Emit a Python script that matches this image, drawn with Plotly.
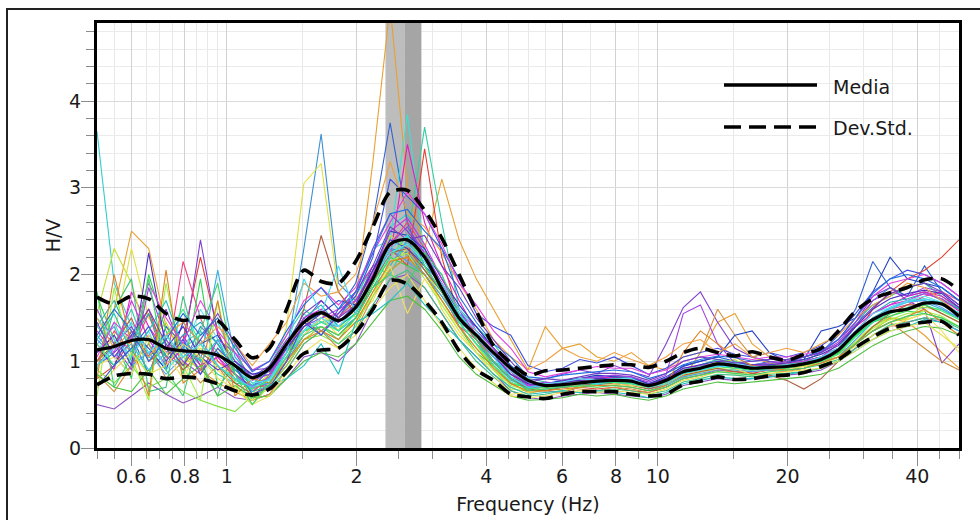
import math
import plotly.graph_objects as go

# ---------------- data ----------------
freq = [0.500, 0.548, 0.601, 0.659, 0.723, 0.792, 0.869, 0.953, 1.045, 1.146,
        1.256, 1.377, 1.510, 1.656, 1.816, 1.991, 2.183, 2.394, 2.625, 2.878,
        3.155, 3.460, 3.793, 4.159, 4.561, 5.000, 5.483, 6.012, 6.592, 7.228,
        7.924, 8.689, 9.527, 10.45, 11.46, 12.56, 13.77, 15.10, 16.56, 18.16,
        19.91, 21.83, 23.94, 26.25, 28.78, 31.55, 34.60, 37.93, 41.59, 45.61, 50.00]

media = [1.13, 1.17, 1.24, 1.25, 1.15, 1.12, 1.11, 1.07, 0.95, 0.81,
         0.92, 1.20, 1.45, 1.56, 1.47, 1.62, 1.95, 2.35, 2.40, 2.20,
         1.84, 1.50, 1.30, 1.10, 0.92, 0.78, 0.72, 0.73, 0.75, 0.77,
         0.78, 0.77, 0.72, 0.78, 0.88, 0.92, 0.97, 0.95, 0.92, 0.93,
         0.94, 0.97, 1.02, 1.13, 1.33, 1.48, 1.57, 1.60, 1.67, 1.66, 1.52]

std_upper = [1.74, 1.66, 1.75, 1.72, 1.55, 1.47, 1.51, 1.47, 1.25, 1.04,
             1.15, 1.60, 2.05, 1.92, 1.90, 2.15, 2.55, 2.95, 2.97, 2.74,
             2.42, 2.00, 1.58, 1.18, 0.98, 0.84, 0.89, 0.90, 0.92, 0.94,
             0.96, 0.96, 0.93, 1.00, 1.10, 1.15, 1.10, 1.06, 1.11, 1.05,
             1.01, 1.08, 1.15, 1.35, 1.58, 1.72, 1.79, 1.85, 1.94, 1.95, 1.82]

std_lower = [0.73, 0.83, 0.86, 0.85, 0.80, 0.82, 0.80, 0.74, 0.66, 0.61,
             0.68, 0.88, 1.09, 1.13, 1.15, 1.33, 1.60, 1.93, 1.89, 1.70,
             1.45, 1.12, 0.90, 0.78, 0.62, 0.59, 0.57, 0.62, 0.65, 0.65,
             0.65, 0.62, 0.60, 0.62, 0.73, 0.77, 0.82, 0.79, 0.80, 0.83,
             0.84, 0.87, 0.94, 1.02, 1.16, 1.28, 1.38, 1.42, 1.45, 1.46, 1.30]

# individual windows (H/V of each time window)
windows = [
    [3.65, 1.90, 1.40, 1.05, 0.95, 1.20, 1.35, 1.10, 0.90, 0.75,
     0.80, 1.05, 1.35, 1.60, 1.40, 1.55, 2.00, 2.55, 2.70, 2.30,
     1.80, 1.45, 1.20, 1.00, 0.85, 0.72, 0.70, 0.74, 0.72, 0.78,
     0.75, 0.80, 0.70, 0.76, 0.85, 0.90, 1.00, 0.96, 0.90, 0.94,
     0.92, 0.98, 1.05, 1.10, 1.30, 1.50, 1.62, 1.70, 1.72, 1.68, 1.55],
    [1.25, 1.05, 0.85, 1.30, 1.05, 0.95, 1.40, 1.20, 0.90, 0.80,
     0.85, 1.10, 2.30, 3.62, 1.90, 1.70, 1.95, 2.30, 2.25, 2.00,
     1.75, 1.45, 1.30, 1.05, 0.90, 0.74, 0.70, 0.72, 0.78, 0.76,
     0.80, 0.75, 0.70, 0.80, 0.90, 0.96, 1.02, 0.98, 0.95, 0.90,
     0.96, 1.00, 1.05, 1.15, 1.40, 1.70, 1.85, 1.75, 1.80, 1.70, 1.60],
    [1.00, 1.30, 2.30, 1.50, 1.20, 0.95, 1.15, 1.00, 0.80, 0.70,
     0.85, 1.40, 3.05, 3.28, 1.80, 1.50, 1.70, 2.10, 2.30, 2.10,
     1.60, 1.30, 1.10, 0.85, 0.70, 0.62, 0.68, 0.70, 0.74, 0.72,
     0.76, 0.74, 0.70, 0.74, 0.82, 0.86, 0.92, 0.85, 0.88, 0.90,
     0.95, 1.00, 1.00, 1.05, 1.25, 1.40, 1.50, 1.48, 1.55, 1.50, 1.40],
    [1.30, 1.60, 2.50, 2.30, 1.40, 1.10, 0.90, 0.75, 0.65, 0.55,
     0.70, 1.05, 1.40, 1.60, 1.35, 1.70, 3.30, 5.10, 3.00, 2.30,
     3.10, 2.40, 1.95, 1.60, 1.25, 0.90, 1.40, 1.15, 1.20, 1.05,
     1.00, 1.10, 0.95, 0.90, 1.05, 1.10, 1.45, 1.55, 1.20, 1.05,
     1.00, 0.95, 1.00, 1.10, 1.20, 1.35, 1.50, 1.45, 1.30, 1.10, 0.92],
    [0.95, 1.10, 1.30, 0.85, 1.40, 1.20, 0.95, 1.10, 0.85, 0.70,
     0.90, 1.20, 1.50, 1.30, 1.60, 1.90, 2.60, 3.75, 2.60, 2.10,
     1.90, 1.60, 1.25, 1.10, 0.80, 0.68, 0.72, 0.76, 0.80, 0.82,
     0.80, 0.78, 0.70, 0.80, 0.95, 1.00, 1.05, 1.00, 0.95, 1.00,
     0.96, 1.00, 1.10, 1.30, 1.60, 2.15, 1.85, 1.75, 2.10, 1.80, 1.65],
    [1.10, 1.45, 1.00, 1.20, 0.95, 1.15, 1.30, 1.45, 1.00, 0.75,
     0.80, 1.20, 1.55, 1.35, 1.45, 1.60, 2.30, 2.40, 3.85, 2.20,
     2.00, 1.40, 1.30, 1.00, 0.88, 0.70, 0.75, 0.70, 0.76, 0.80,
     0.78, 0.76, 0.74, 0.78, 0.86, 0.90, 0.95, 0.98, 0.92, 0.90,
     0.94, 0.98, 1.00, 1.10, 1.35, 1.50, 1.60, 1.70, 1.70, 1.65, 1.55],
    [1.40, 1.20, 1.60, 1.05, 1.25, 0.90, 1.05, 0.85, 0.75, 0.72,
     0.95, 1.30, 1.60, 1.45, 1.50, 1.75, 2.10, 2.00, 2.40, 3.70,
     2.60, 1.60, 1.40, 1.20, 0.95, 0.80, 0.76, 0.72, 0.78, 0.74,
     0.82, 0.80, 0.74, 0.80, 0.90, 0.95, 1.02, 1.00, 0.96, 0.98,
     0.95, 1.02, 1.08, 1.15, 1.45, 1.65, 1.75, 1.85, 1.90, 1.75, 1.60],
    [0.80, 0.95, 1.25, 1.60, 1.05, 1.25, 2.20, 1.35, 0.85, 0.70,
     0.72, 0.95, 1.25, 1.40, 1.30, 1.50, 1.90, 2.30, 2.10, 3.45,
     2.20, 1.50, 1.35, 1.15, 0.88, 0.72, 0.66, 0.64, 0.70, 0.68,
     0.70, 0.66, 0.64, 0.70, 0.80, 0.84, 0.90, 0.88, 0.86, 0.90,
     0.88, 0.92, 0.98, 1.10, 1.30, 1.60, 1.80, 1.95, 2.05, 2.20, 2.40],
    [1.20, 0.90, 1.80, 1.40, 1.10, 1.30, 0.95, 1.05, 0.80, 0.68,
     0.75, 1.00, 1.30, 1.50, 1.55, 1.80, 2.10, 2.20, 3.50, 2.60,
     2.10, 1.70, 1.35, 1.15, 0.95, 0.74, 0.70, 0.78, 0.74, 0.80,
     0.82, 0.78, 0.72, 0.80, 0.92, 0.95, 0.98, 0.95, 0.92, 0.95,
     0.98, 1.00, 1.05, 1.20, 1.40, 1.55, 1.65, 1.75, 1.80, 1.75, 1.62],
    [0.95, 1.20, 1.40, 1.05, 1.60, 1.10, 2.40, 1.30, 1.00, 0.82,
     0.95, 1.25, 1.45, 1.70, 1.50, 1.80, 2.30, 2.70, 2.50, 2.25,
     1.90, 1.55, 1.40, 1.15, 0.90, 0.75, 0.80, 0.85, 0.90, 0.86,
     0.95, 0.88, 0.82, 1.20, 1.62, 1.80, 1.45, 1.15, 1.05, 1.00,
     0.98, 1.05, 1.10, 1.25, 1.45, 1.75, 1.85, 1.70, 1.60, 0.98, 1.20],
    [0.50, 0.45, 0.60, 0.75, 0.62, 0.52, 0.60, 0.70, 0.58, 0.55,
     0.62, 0.80, 1.05, 1.10, 1.00, 1.20, 1.60, 1.95, 2.00, 1.85,
     1.55, 1.25, 1.05, 0.85, 0.66, 0.58, 0.56, 0.60, 0.62, 0.64,
     0.62, 0.60, 0.58, 0.62, 0.72, 0.76, 0.80, 0.78, 0.80, 0.82,
     0.84, 0.86, 0.90, 1.00, 1.15, 1.30, 1.40, 1.45, 1.50, 1.45, 1.35],
    [0.90, 0.75, 0.95, 0.70, 0.80, 0.65, 0.55, 0.48, 0.42, 0.60,
     0.70, 0.95, 1.25, 1.30, 1.20, 1.40, 1.80, 2.05, 2.20, 2.00,
     1.70, 1.40, 1.15, 0.95, 0.80, 0.66, 0.66, 0.70, 0.72, 0.74,
     0.76, 0.74, 0.68, 0.74, 0.82, 0.88, 0.94, 0.92, 0.90, 0.92,
     0.92, 0.95, 1.00, 1.05, 1.22, 1.40, 1.52, 1.60, 1.62, 1.60, 1.48],
    [1.55, 2.30, 1.90, 1.20, 1.45, 1.05, 0.90, 1.15, 0.85, 0.62,
     0.85, 1.15, 1.40, 1.55, 1.35, 1.65, 2.00, 2.45, 2.30, 2.05,
     1.75, 1.45, 1.20, 0.90, 0.68, 0.66, 0.70, 0.66, 0.70, 0.74,
     0.74, 0.72, 0.70, 0.74, 0.85, 0.90, 0.98, 1.02, 0.90, 0.96,
     0.98, 1.00, 1.00, 1.08, 1.20, 1.35, 1.45, 1.50, 1.65, 1.55, 1.45],
    [1.00, 1.35, 1.10, 1.55, 0.95, 2.15, 1.50, 1.00, 0.85, 0.65,
     0.80, 1.10, 1.45, 1.35, 1.50, 1.70, 2.05, 2.35, 2.60, 2.30,
     1.80, 1.40, 1.25, 1.05, 0.85, 0.70, 0.70, 0.75, 0.78, 0.76,
     0.76, 0.80, 0.72, 0.76, 0.86, 0.92, 0.95, 0.92, 0.92, 0.96,
     0.96, 1.00, 1.05, 1.12, 1.35, 1.50, 1.60, 1.65, 1.75, 1.80, 1.70],
    [1.30, 1.05, 1.20, 0.90, 1.10, 1.25, 1.00, 2.05, 1.05, 0.80,
     0.70, 1.00, 1.30, 1.50, 1.35, 1.50, 1.85, 2.10, 2.40, 2.05,
     1.80, 1.50, 1.25, 0.98, 0.80, 0.70, 0.74, 0.76, 0.74, 0.72,
     0.78, 0.76, 0.70, 0.76, 0.86, 0.90, 0.95, 0.93, 0.90, 0.92,
     0.95, 0.98, 1.02, 1.10, 1.30, 1.45, 1.55, 1.62, 1.68, 1.60, 1.50],
    [1.75, 1.25, 0.80, 2.00, 1.35, 0.85, 1.95, 0.70, 0.95, 0.55,
     0.85, 1.15, 1.35, 1.40, 1.25, 1.50, 1.85, 2.20, 2.10, 2.00,
     1.70, 1.40, 1.10, 0.95, 0.74, 0.70, 0.72, 0.76, 0.74, 0.76,
     0.76, 0.78, 0.72, 0.78, 0.90, 0.94, 0.98, 0.96, 0.94, 0.96,
     0.94, 0.98, 1.00, 1.10, 1.30, 1.45, 1.52, 1.58, 1.55, 1.50, 1.40],
    [1.40, 1.70, 1.25, 1.55, 1.05, 1.30, 1.45, 1.20, 0.90, 0.72,
     0.80, 1.10, 1.50, 1.65, 1.40, 1.55, 1.90, 2.25, 2.35, 2.15,
     1.85, 1.55, 1.30, 1.05, 0.82, 0.72, 0.74, 0.70, 0.76, 0.78,
     0.80, 0.78, 0.72, 0.78, 0.88, 0.92, 0.98, 0.96, 0.94, 0.95,
     0.96, 1.00, 1.05, 1.12, 1.35, 1.55, 1.68, 1.72, 1.78, 1.72, 1.60],
    [0.85, 0.65, 0.95, 1.20, 0.80, 1.00, 0.75, 0.95, 0.65, 0.55,
     0.62, 0.90, 1.20, 1.35, 1.15, 1.35, 1.75, 2.05, 2.20, 2.10,
     1.80, 1.50, 1.25, 0.95, 0.75, 0.64, 0.66, 0.70, 0.68, 0.66,
     0.70, 0.68, 0.64, 0.70, 0.80, 1.10, 1.60, 1.30, 1.05, 0.98,
     0.92, 0.94, 0.98, 1.05, 1.20, 1.35, 1.45, 1.30, 1.15, 1.00, 0.90],
    [1.15, 0.95, 1.35, 1.15, 0.90, 1.45, 1.20, 1.30, 0.95, 0.85,
     0.90, 1.20, 1.45, 1.55, 1.70, 1.65, 2.05, 2.50, 2.45, 2.30,
     1.95, 1.65, 1.40, 1.15, 0.95, 0.76, 0.74, 0.78, 0.80, 0.84,
     0.82, 0.82, 0.74, 0.82, 0.94, 1.00, 1.05, 1.30, 1.35, 1.10,
     1.00, 1.02, 1.35, 1.40, 1.50, 1.80, 2.20, 1.95, 1.90, 1.85, 1.70],
    [0.60, 1.85, 1.05, 0.55, 1.90, 0.95, 0.55, 1.70, 0.75, 0.50,
     0.72, 1.00, 1.25, 1.40, 1.30, 1.45, 1.75, 2.15, 2.25, 1.95,
     1.65, 1.35, 1.10, 0.90, 0.72, 0.66, 0.68, 0.72, 0.70, 0.72,
     0.72, 0.70, 0.66, 0.72, 0.82, 0.88, 0.92, 0.90, 0.88, 0.90,
     0.92, 0.95, 0.98, 1.05, 1.22, 1.38, 1.48, 1.55, 1.58, 1.52, 1.40],
    [1.60, 1.20, 0.90, 1.85, 1.25, 1.00, 0.85, 1.25, 1.10, 0.78,
     0.85, 1.15, 1.40, 1.50, 1.60, 1.70, 2.00, 2.35, 2.55, 2.25,
     1.90, 1.60, 1.35, 1.15, 0.92, 0.72, 0.76, 0.74, 0.80, 0.82,
     0.84, 0.82, 0.76, 0.84, 1.55, 1.65, 1.20, 0.98, 0.96, 0.98,
     1.00, 1.05, 1.10, 1.22, 1.45, 1.70, 1.80, 1.75, 1.85, 1.80, 1.65],
    [1.20, 1.40, 0.95, 1.10, 0.85, 1.05, 1.25, 0.95, 0.80, 0.72,
     0.75, 1.05, 1.35, 1.45, 1.40, 1.60, 1.95, 2.30, 2.15, 2.00,
     1.75, 1.45, 1.20, 1.00, 0.78, 0.70, 0.68, 0.70, 0.72, 0.74,
     0.74, 0.74, 0.68, 0.72, 0.82, 0.86, 0.90, 0.90, 0.88, 0.90,
     0.90, 0.92, 0.98, 1.05, 1.25, 1.45, 1.62, 1.68, 1.70, 1.62, 1.50],
    [1.00, 1.20, 1.50, 1.00, 1.15, 0.90, 1.10, 0.95, 0.75, 0.62,
     0.72, 1.00, 1.60, 2.45, 1.80, 1.55, 1.90, 2.25, 2.30, 2.05,
     1.80, 1.50, 1.25, 1.00, 0.80, 0.68, 0.66, 0.70, 0.72, 0.74,
     0.74, 0.72, 0.68, 0.74, 0.84, 0.88, 0.92, 0.88, 0.86, 0.84,
     0.78, 0.68, 0.80, 1.00, 1.20, 1.40, 1.55, 1.65, 1.65, 1.55, 1.45],
    [0.90, 1.60, 1.95, 0.65, 0.70, 1.75, 1.00, 0.60, 1.20, 0.60,
     0.68, 0.90, 1.20, 1.35, 1.20, 1.35, 1.65, 1.95, 2.05, 1.85,
     1.55, 1.25, 1.00, 0.82, 0.66, 0.60, 0.62, 0.66, 0.64, 0.66,
     0.68, 0.66, 0.62, 0.66, 0.76, 0.80, 0.85, 0.84, 0.82, 0.85,
     0.86, 0.88, 0.92, 1.00, 1.15, 1.30, 1.42, 1.45, 1.50, 1.48, 1.38],
    [1.35, 1.10, 1.70, 1.25, 0.95, 1.15, 0.90, 1.05, 0.85, 0.70,
     0.82, 1.15, 1.50, 1.60, 1.45, 1.60, 2.00, 2.50, 2.65, 2.35,
     1.95, 1.60, 1.30, 1.05, 0.88, 0.72, 0.70, 0.74, 0.76, 0.78,
     0.80, 0.78, 0.72, 0.80, 0.90, 0.94, 0.98, 0.96, 0.95, 0.96,
     0.98, 1.00, 1.05, 1.15, 1.35, 1.55, 1.65, 1.70, 1.78, 1.72, 1.58],
    [0.95, 1.05, 0.85, 1.30, 1.10, 0.80, 1.20, 0.90, 0.70, 0.55,
     0.70, 1.05, 1.30, 1.50, 1.30, 1.45, 1.80, 2.10, 1.55, 1.95,
     1.70, 1.35, 1.10, 0.85, 0.62, 0.64, 0.70, 0.74, 0.72, 0.70,
     0.74, 0.72, 0.70, 0.74, 0.85, 0.90, 1.00, 0.92, 0.84, 0.88,
     0.90, 0.94, 0.96, 1.05, 1.18, 1.30, 1.40, 1.48, 1.55, 1.35, 1.10],
    [1.10, 1.30, 0.95, 2.25, 1.15, 1.40, 1.05, 0.90, 1.00, 0.85,
     0.88, 1.15, 1.40, 1.55, 1.45, 1.65, 2.05, 2.40, 2.30, 2.10,
     1.80, 1.50, 1.30, 1.05, 0.85, 0.74, 0.72, 0.76, 0.78, 0.80,
     0.80, 0.80, 0.74, 0.80, 0.92, 0.96, 1.00, 0.98, 0.96, 0.96,
     0.98, 1.02, 1.08, 1.18, 1.40, 1.60, 1.72, 1.78, 1.82, 1.78, 1.62],
    [1.20, 0.95, 1.15, 0.85, 1.30, 1.60, 1.20, 0.95, 0.78, 0.68,
     0.78, 1.10, 1.35, 1.45, 1.35, 1.55, 1.90, 2.20, 2.45, 2.10,
     1.80, 1.45, 1.20, 0.95, 0.76, 0.68, 0.70, 0.72, 0.70, 0.74,
     0.76, 0.74, 0.70, 0.76, 0.86, 0.90, 0.94, 0.92, 0.90, 0.92,
     0.92, 0.96, 1.00, 1.08, 1.28, 1.45, 1.55, 1.62, 1.65, 1.58, 1.48],
    [0.80, 2.00, 1.20, 0.60, 2.05, 0.75, 0.90, 1.70, 0.60, 0.80,
     0.75, 1.00, 1.25, 1.35, 1.25, 1.45, 1.80, 2.15, 2.20, 2.00,
     1.70, 1.40, 1.15, 0.92, 0.74, 0.66, 0.66, 0.68, 0.70, 0.72,
     0.72, 0.70, 0.66, 0.72, 1.10, 1.35, 1.20, 1.05, 0.95, 0.92,
     0.90, 0.92, 0.98, 1.05, 1.20, 1.35, 1.45, 1.52, 1.60, 1.45, 1.30],
    [1.50, 1.25, 1.05, 1.35, 0.90, 1.10, 1.60, 1.25, 0.95, 0.75,
     0.78, 1.05, 1.35, 1.50, 1.40, 1.60, 1.95, 2.25, 2.35, 2.15,
     1.90, 1.60, 1.35, 1.10, 0.88, 0.76, 0.74, 0.76, 0.80, 0.78,
     0.80, 0.80, 0.72, 0.78, 0.90, 0.94, 0.98, 0.98, 0.94, 0.94,
     0.96, 0.98, 1.05, 1.15, 1.35, 1.55, 1.62, 1.70, 1.75, 1.68, 1.55],
    [0.70, 0.95, 1.15, 1.40, 1.00, 1.25, 0.85, 1.15, 0.95, 0.62,
     0.70, 1.00, 1.45, 1.30, 1.55, 1.75, 2.20, 3.10, 2.90, 2.70,
     2.30, 1.95, 1.55, 1.40, 1.30, 0.95, 0.88, 0.92, 1.02, 0.98,
     1.05, 0.95, 0.85, 0.92, 1.05, 1.10, 1.15, 1.08, 1.05, 1.10,
     1.05, 1.10, 1.18, 1.32, 1.55, 1.80, 1.95, 2.05, 2.00, 1.90, 1.75],
    [0.85, 0.70, 0.65, 0.90, 0.62, 0.80, 0.95, 0.60, 0.72, 0.58,
     0.60, 0.80, 1.00, 1.10, 1.05, 1.20, 1.45, 1.70, 1.75, 1.60,
     1.35, 1.05, 0.85, 0.72, 0.60, 0.55, 0.56, 0.58, 0.62, 0.60,
     0.62, 0.58, 0.55, 0.60, 0.68, 0.72, 0.76, 0.74, 0.76, 0.78,
     0.80, 0.82, 0.85, 0.92, 1.05, 1.18, 1.28, 1.35, 1.40, 1.38, 1.30],
    [1.50, 1.15, 1.35, 1.05, 1.30, 1.45, 1.20, 1.40, 1.20, 0.95,
     1.20, 1.45, 1.90, 1.75, 1.80, 2.00, 2.60, 3.30, 2.70, 2.55,
     2.25, 1.90, 1.60, 1.25, 1.05, 0.90, 1.00, 1.15, 1.05, 1.00,
     1.10, 1.02, 0.95, 1.05, 1.20, 1.25, 1.10, 1.20, 1.05, 1.10,
     1.15, 1.10, 1.20, 1.30, 1.50, 1.65, 1.75, 1.90, 1.85, 1.70, 1.55],
    [1.25, 1.55, 1.10, 1.35, 1.70, 1.15, 1.00, 1.25, 0.85, 0.65,
     0.72, 0.80, 0.95, 1.20, 0.85, 1.45, 1.55, 1.70, 1.90, 1.65,
     1.45, 1.25, 1.05, 0.85, 0.70, 0.62, 0.64, 0.66, 0.64, 0.66,
     0.64, 0.62, 0.58, 0.64, 0.74, 0.78, 0.82, 0.80, 0.80, 0.82,
     0.85, 0.88, 0.92, 1.00, 1.12, 1.25, 1.35, 1.40, 1.48, 1.45, 1.35],
    [1.05, 1.45, 1.25, 1.90, 1.50, 1.20, 1.70, 1.35, 1.10, 0.90,
     1.00, 1.30, 1.70, 1.85, 1.65, 1.85, 2.25, 2.60, 2.95, 2.70,
     2.35, 1.90, 1.65, 1.35, 1.15, 0.88, 0.82, 0.86, 0.90, 0.94,
     0.92, 0.92, 0.85, 0.90, 1.00, 1.05, 1.08, 1.05, 1.02, 1.05,
     1.05, 1.08, 1.12, 1.25, 1.50, 1.75, 1.90, 1.95, 2.00, 1.90, 1.75],
    [0.70, 0.90, 1.10, 0.85, 0.95, 1.20, 1.05, 0.80, 0.68, 0.50,
     0.60, 0.85, 1.10, 1.25, 1.15, 1.30, 1.60, 1.85, 2.00, 1.70,
     1.40, 1.15, 0.92, 0.75, 0.60, 0.58, 0.60, 0.64, 0.66, 0.64,
     0.66, 0.64, 0.62, 0.68, 0.78, 0.82, 0.88, 0.86, 0.84, 0.86,
     0.88, 0.90, 0.92, 1.00, 1.12, 1.25, 1.35, 1.40, 1.45, 1.30, 1.15],
    [1.30, 1.60, 1.35, 1.00, 1.25, 1.55, 1.30, 1.50, 1.15, 0.88,
     1.00, 1.35, 1.65, 1.85, 1.60, 1.80, 2.25, 2.70, 2.75, 2.50,
     2.30, 1.75, 1.45, 1.20, 1.05, 0.82, 0.80, 0.84, 0.86, 0.88,
     0.90, 0.88, 0.80, 0.86, 0.96, 1.02, 1.06, 1.04, 1.00, 1.02,
     1.02, 1.05, 1.12, 1.25, 1.50, 1.78, 1.95, 2.00, 1.95, 1.85, 1.70],
    [1.80, 0.70, 1.05, 1.95, 0.90, 0.60, 1.35, 1.90, 0.85, 0.50,
     0.75, 1.05, 1.30, 1.40, 1.30, 1.50, 1.85, 2.00, 1.90, 2.25,
     2.00, 1.55, 1.25, 1.00, 0.80, 0.66, 0.68, 0.70, 0.72, 0.70,
     0.72, 0.70, 0.66, 0.70, 0.80, 0.84, 0.88, 0.86, 0.84, 0.88,
     0.90, 0.92, 0.96, 1.02, 1.20, 1.35, 1.45, 1.52, 1.55, 1.50, 1.40],
    [1.45, 1.05, 1.30, 1.60, 1.20, 0.95, 1.25, 1.55, 1.20, 0.90,
     0.92, 1.20, 1.55, 1.70, 1.50, 1.65, 2.10, 2.55, 2.40, 2.45,
     2.10, 1.85, 1.50, 1.25, 1.00, 0.78, 0.80, 0.78, 0.82, 0.86,
     0.86, 0.84, 0.78, 0.86, 1.00, 1.05, 1.02, 0.98, 1.00, 1.02,
     1.02, 1.05, 1.10, 1.20, 1.42, 1.62, 1.78, 1.85, 1.90, 1.80, 1.65],
    [0.95, 1.15, 1.45, 1.10, 1.30, 1.05, 1.20, 0.95, 0.80, 0.70,
     0.80, 1.10, 1.95, 1.55, 2.10, 1.55, 1.95, 2.30, 2.45, 2.20,
     1.85, 1.55, 1.30, 1.05, 0.82, 0.70, 0.72, 0.74, 0.76, 0.74,
     0.78, 0.76, 0.70, 0.74, 0.86, 0.90, 0.94, 0.94, 0.92, 0.94,
     0.94, 0.98, 1.04, 1.12, 1.32, 1.50, 1.60, 1.68, 1.72, 1.66, 1.56],
]

window_colors = ["#33cccc", "#3a8fd0", "#e0e040", "#e8a030", "#3060d0", "#40e0d0",
                 "#30d0a0", "#e04030", "#e020c0", "#8040d0", "#9050c0", "#80e040",
                 "#c0e030", "#f04080", "#30b0e0", "#30d050", "#20b0b0", "#d09040",
                 "#2040c0", "#a0f040", "#a040e0", "#50a0f0", "#b06040", "#40c080",
                 "#d030e0", "#f0e060", "#5030c0", "#30f080", "#e08020", "#60e0f0",
                 "#4050e0", "#50c040", "#f0a040", "#20c0c0", "#e040e0", "#e8e050",
                 "#2070e0", "#40d070", "#7040c0", "#40d8f0"]

band_light_hz = [2.335, 2.584]
band_dark_hz = [2.584, 2.829]
y_max = 4.9

x_tick_vals = [0.6, 0.8, 1, 2, 4, 6, 8, 10, 20, 40]
x_tick_text = ["0.6", "0.8", "1", "2", "4", "6", "8", "10", "20", "40"]
x_minor_vals = [0.5, 0.55, 0.65, 0.7, 0.75, 0.85, 0.9, 0.95, 1.5, 2.5, 3, 3.5,
                4.5, 5, 5.5, 7, 9, 15, 25, 30, 35, 45, 50]
y_tick_vals = [0, 1, 2, 3, 4]

FONT = "DejaVu Sans"
TXT = "#1a1a1a"

# ---------------- figure ----------------
fig = go.Figure()

for (a, b), col in [(band_light_hz, "#bdbdbd"), (band_dark_hz, "#a5a5a5")]:
    fig.add_trace(go.Scatter(x=[a, a, b, b], y=[0, y_max, y_max, 0], fill="toself",
                             fillcolor=col, line=dict(width=0), mode="lines",
                             showlegend=False, hoverinfo="skip"))

for w, c in zip(windows, window_colors):
    fig.add_trace(go.Scatter(x=freq, y=w, mode="lines", line=dict(color=c, width=1.1),
                             showlegend=False, hoverinfo="skip"))

for ys in (std_upper, std_lower):
    fig.add_trace(go.Scatter(x=freq, y=ys, mode="lines",
                             line=dict(color="black", width=3.6, dash="14px,8px",
                                       shape="spline", smoothing=0.8),
                             showlegend=False))
fig.add_trace(go.Scatter(x=freq, y=media, mode="lines",
                         line=dict(color="black", width=3.2, shape="spline", smoothing=0.8),
                         showlegend=False))

# plot area in pixels: x 97..959, y 23..448
L, R, T, B = 97, 959, 23, 448
def px(x):
    return (x - L) / (R - L)
def py(y):
    return (B - y) / (B - T)

shapes = [
    dict(type="rect", xref="paper", yref="paper", x0=px(7), x1=px(990), y0=py(530), y1=py(9),
         line=dict(color="#222", width=2), layer="above"),
    dict(type="line", xref="paper", yref="paper", x0=px(724), x1=px(817), y0=py(85), y1=py(85),
         line=dict(color="black", width=3.5)),
    dict(type="line", xref="paper", yref="paper", x0=px(724), x1=px(817), y0=py(127), y1=py(127),
         line=dict(color="black", width=3.5, dash="17px,8px")),
]
annotations = [
    dict(text="Media", xref="paper", yref="paper", x=px(831), y=py(87), xanchor="left",
         yanchor="middle", showarrow=False, font=dict(family=FONT, size=19, color=TXT)),
    dict(text="Dev.Std.", xref="paper", yref="paper", x=px(831), y=py(128), xanchor="left",
         yanchor="middle", showarrow=False, font=dict(family=FONT, size=19, color=TXT)),
]

fig.update_layout(
    width=980, height=520,
    margin=dict(l=L, r=980 - R, t=T, b=520 - B, autoexpand=False),
    paper_bgcolor="white", plot_bgcolor="white",
    font=dict(family=FONT, size=19, color=TXT),
    shapes=shapes, annotations=annotations,
    showlegend=False,
)
fig.update_xaxes(
    type="log", range=[math.log10(0.5), math.log10(50)],
    tickmode="array", tickvals=x_tick_vals, ticktext=x_tick_text,
    ticks="outside", ticklen=15, tickcolor="#8c8c8c", tickwidth=1,
    ticklabelstandoff=-6,
    tickfont=dict(family=FONT, size=19, color=TXT),
    showgrid=True, gridcolor="#d2d2d2", gridwidth=1,
    minor=dict(tickmode="array", tickvals=x_minor_vals, ticks="outside", ticklen=8,
               tickcolor="#8c8c8c", showgrid=True, gridcolor="#e8e8e8"),
    showline=True, linecolor="black", linewidth=3, mirror=True, zeroline=False,
    title=dict(text="Frequency (Hz)", font=dict(family=FONT, size=19, color=TXT), standoff=12),
)
fig.update_yaxes(
    range=[0, y_max], tickmode="array", tickvals=y_tick_vals,
    ticks="outside", ticklen=13, tickcolor="#8c8c8c", tickwidth=1,
    ticklabelstandoff=-4,
    tickfont=dict(family=FONT, size=19, color=TXT),
    showgrid=True, gridcolor="#dadada", gridwidth=1,
    minor=dict(dtick=0.2, ticks="outside", ticklen=8, tickcolor="#8c8c8c",
               showgrid=True, gridcolor="#ebebeb"),
    showline=True, linecolor="black", linewidth=3, mirror=True, zeroline=False,
    title=dict(text="H/V", font=dict(family=FONT, size=19, color=TXT), standoff=4),
)

fig.write_html("out.html", config={"displayModeBar": False},
               post_script="document.body.style.margin='0px';document.body.style.overflow='hidden';")
